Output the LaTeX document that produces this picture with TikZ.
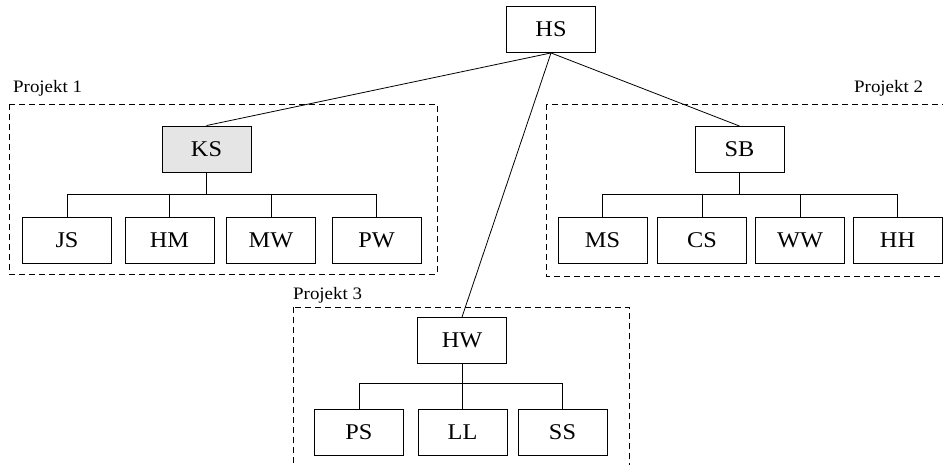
\documentclass[tikz,border=0pt]{standalone}
\usepackage{fontspec}
\setmainfont{Liberation Serif}
\newfontfamily\boxfont[FakeStretch=1.08]{Liberation Serif}
\begin{document}
\begin{tikzpicture}[x=1pt,y=-1pt,
  member/.style={draw, line width=0.9pt, minimum width=89pt, minimum height=46pt,
    inner sep=0pt, font=\boxfont\fontsize{22.5}{26}\selectfont},
  lead/.style={member, fill=black!10},
  group/.style={draw, dash pattern=on 6pt off 4pt, line width=0.8pt},
  grouplabel/.style={anchor=base west, inner sep=0pt,
    font=\boxfont\fontsize{17.5}{20}\selectfont},
  link/.style={line width=0.8pt}]
\useasboundingbox (0,0) rectangle (943,465);
\begin{scope}
\clip (0,0) rectangle (943,465);

% project frames
\draw[group] (9,104) rectangle (437,274);
\draw[group] (546,104) rectangle (960,276);
\draw[group] (293,307) rectangle (629,490);
\node[grouplabel] (p1) at (13,93) {Projekt 1};
\node[grouplabel] (p2) at (854,93) {Projekt 2};
\node[grouplabel] (p3) at (293,300) {Projekt 3};

% head
\node[member] (HS) at (551,29.5) {HS};

% project 1
\node[lead]   (KS) at (206.5,149) {KS};
\node[member] (JS) at (67,240)    {JS};
\node[member] (HM) at (169.5,240) {HM};
\node[member] (MW) at (271,240)   {MW};
\node[member] (PW) at (376.5,240) {PW};

% project 2
\node[member] (SB) at (739.5,149.5) {SB};
\node[member] (MS) at (602.5,240) {MS};
\node[member] (CS) at (702,240)   {CS};
\node[member] (WW) at (800,240)   {WW};
\node[member] (HH) at (897.5,240) {HH};

% project 3
\node[member] (HW) at (462,340.5) {HW};
\node[member] (PS) at (359,432)   {PS};
\node[member] (LL) at (462.5,432) {LL};
\node[member] (SS) at (562.5,432) {SS};

% links from the head
\draw[link] (HS.south) -- (KS.north);
\draw[link] (HS.south) -- (SB.north);
\draw[link] (HS.south) -- (HW.north);

% team buses
\coordinate (kb) at (206.5,194);
\draw[link] (KS.south) -- (kb);
\foreach \m in {JS,HM,MW,PW} \draw[link] (kb) -| (\m.north);

\coordinate (sb) at (739.5,194);
\draw[link] (SB.south) -- (sb);
\foreach \m in {MS,CS,WW,HH} \draw[link] (sb) -| (\m.north);

\coordinate (hb) at (462,383);
\draw[link] (HW.south) -- (hb);
\foreach \m in {PS,LL,SS} \draw[link] (hb) -| (\m.north);
\end{scope}
\end{tikzpicture}
\end{document}
